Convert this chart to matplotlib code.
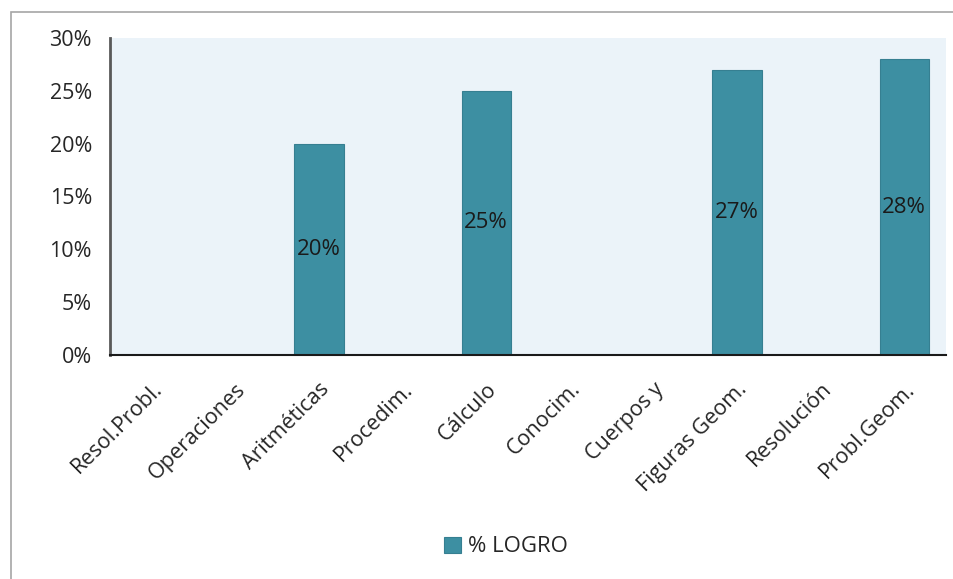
import matplotlib.pyplot as plt
from matplotlib.patches import Rectangle
from matplotlib.ticker import PercentFormatter

# Data
categories = ['Resol.Probl.', 'Operaciones', 'Aritméticas', 'Procedim.', 'Cálculo',
              'Conocim.', 'Cuerpos y', 'Figuras Geom.', 'Resolución', 'Probl.Geom.']
logro = [0.0, 0.0, 0.20, 0.0, 0.25, 0.0, 0.0, 0.27, 0.0, 0.28]
series_name = '% LOGRO'
y_ticks = [0, 0.05, 0.10, 0.15, 0.20, 0.25, 0.30]

BAR_COLOR = '#3d8fa2'
BG_COLOR = '#ebf3f9'
TEXT_COLOR = '#262626'

plt.rcParams['font.family'] = ['Open Sans', 'DejaVu Sans']

fig = plt.figure(figsize=(9.54, 5.79), dpi=100)

# outer chart border (cropped at right/bottom in the original)
fig.patches.append(Rectangle((11 / 954, -0.05), 1.2, 1 - 12 / 579 + 0.05,
                             transform=fig.transFigure, fill=False,
                             edgecolor='#a6a6a6', linewidth=1.2))

ax = fig.add_axes([110 / 954, 1 - 355 / 579, (946 - 110) / 954, (355 - 38) / 579])
ax.set_facecolor(BG_COLOR)

x = list(range(len(categories)))
bars = ax.bar(x, logro, width=0.59, color=BAR_COLOR, edgecolor='#367f91',
              linewidth=0.8, label=series_name, zorder=2)

for xi, v in zip(x, logro):
    if v > 0:
        ax.text(xi, v / 2, f'{v * 100:.0f}%', ha='center', va='center',
                fontsize=16, color='#1a1a1a')

ax.set_xlim(-0.5, len(categories) - 0.5)
ax.set_ylim(0, 0.30)
ax.set_yticks(y_ticks)
ax.yaxis.set_major_formatter(PercentFormatter(1.0, decimals=0))
ax.tick_params(axis='y', length=0, labelsize=15.5, labelcolor=TEXT_COLOR, pad=13)
ax.tick_params(axis='x', length=0, labelsize=15.5, labelcolor=TEXT_COLOR, pad=17)
ax.set_xticks(x)
ax.set_xticklabels(categories, rotation=45, ha='right', rotation_mode='anchor')

for s in ['top', 'right']:
    ax.spines[s].set_visible(False)
ax.spines['left'].set_color('#595959')
ax.spines['left'].set_linewidth(2)
ax.spines['bottom'].set_color('#1a1a1a')
ax.spines['bottom'].set_linewidth(1.5)

fig.legend(handles=[bars], labels=[series_name], loc='center',
           bbox_to_anchor=(506 / 954, 1 - 547 / 579), frameon=False,
           fontsize=16, handlelength=0.75, handleheight=0.75, handletextpad=0.3,
           labelcolor=TEXT_COLOR)

fig.savefig('out.png', dpi=100)
